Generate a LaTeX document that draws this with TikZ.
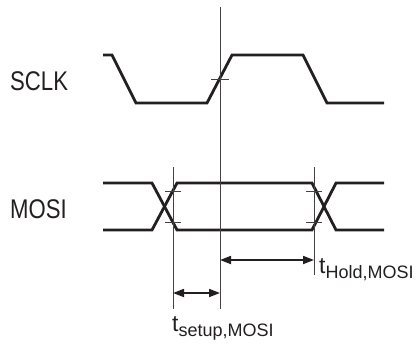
\documentclass[tikz,border=0pt]{standalone}
\usepackage{fontspec}
\setmainfont{Liberation Sans}
\newfontfamily\sigfont[FakeStretch=0.82]{Liberation Sans}
\usepackage{tikz}
\usetikzlibrary{arrows.meta}
\definecolor{inkdark}{HTML}{231F20}
\tikzset{
  every picture/.append style={font=\fontsize{27}{27}\sigfont},
  wave/.style={line width=2.8pt,draw=inkdark,line join=miter},
  timeline/.style={line width=0.9pt,draw=inkdark!85},
  edgemark/.style={line width=0.8pt,draw=inkdark!85},
  dimarrow/.style={line width=1.7pt,draw=inkdark,
    {Triangle[length=11pt,width=8pt]}-{Triangle[length=11pt,width=8pt]}},
  tlabel/.style={anchor=base west,inner sep=0pt,text=inkdark,
    font=\fontsize{23}{23}\rmfamily},
}
\newcommand{\tsub}[1]{\raisebox{-5pt}{\fontsize{18}{18}\selectfont #1}}

\begin{document}
\begin{tikzpicture}[x=1pt,y=-1pt]
    \useasboundingbox (0,0) rectangle (419,345);
    % signal names
    \node[anchor=base west,inner sep=0pt,text=inkdark] (sclk) at (10,90) {SCLK};
    \node[anchor=base west,inner sep=0pt,text=inkdark] (mosi) at (10,218) {MOSI};
    % clock
    \draw[wave] (103,55) -- (112,55) -- (136,103) -- (207,103) -- (232,55)
      -- (303,55) -- (327,103) -- (384,103);
    % data
    \draw[wave] (103,183) -- (152,183) -- (177,230) -- (312,230) -- (336,183) -- (384,183);
    \draw[wave] (103,230) -- (152,230) -- (177,183) -- (312,183) -- (336,230) -- (384,230);
    % reference lines
    \coordinate (clktop) at (220,7);
    \coordinate (clkbot) at (220,309);
    \coordinate (sutop) at (173,167);
    \coordinate (subot) at (173,309);
    \coordinate (hdtop) at (314,167);
    \coordinate (hdbot) at (314,275);
    \draw[timeline] (clktop) -- (clkbot);
    \draw[timeline] (sutop) -- (subot);
    \draw[timeline] (hdtop) -- (hdbot);
    % crossing marks
    \draw[edgemark] (211,79) -- (229,79);
    \foreach \x in {173,314} {
      \foreach \y in {191,222} {\draw[edgemark] (\x-8,\y) -- (\x+8,\y);}
    }
    % timing arrows
    \coordinate (hdstart) at (220,260);
    \coordinate (hdend) at (314,260);
    \coordinate (sustart) at (173,293);
    \coordinate (suend) at (220,293);
    \draw[dimarrow] (hdstart) -- (hdend);
    \draw[dimarrow] (sustart) -- (suend);
    \node[tlabel] (thold) at (319,273) {t\tsub{Hold,MOSI}};
    \node[tlabel] (tsetup) at (172,331) {t\tsub{setup,MOSI}};
  \end{tikzpicture}
\end{document}
